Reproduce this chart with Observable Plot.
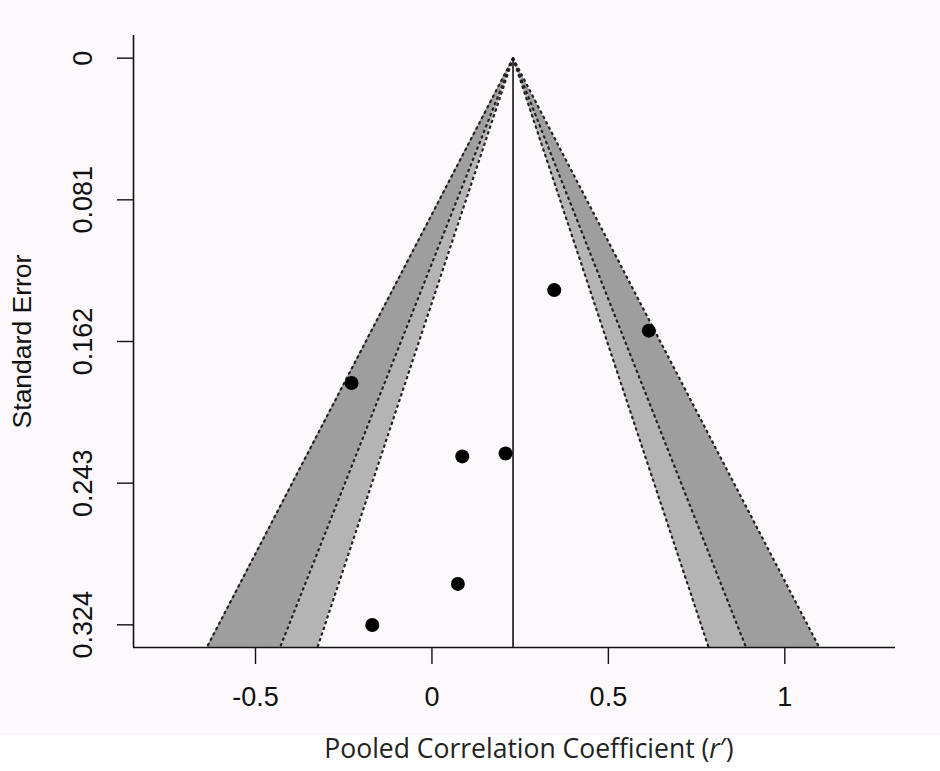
<!DOCTYPE html>
<html>
<head>
<meta charset="utf-8">
<script src="https://cdn.jsdelivr.net/npm/d3@7"></script>
<script src="https://cdn.jsdelivr.net/npm/@observablehq/plot@0.6"></script>
<style>
  html, body { margin: 0; padding: 0; background: #ffffff; }
  #chart svg { display: block; }
  #xlabel {
    width: 940px; height: 36px; background: #ffffff;
    font-family: "Open Sans", sans-serif; font-size: 26.5px; color: #222;
    position: relative;
  }
  #xlabel span { position: absolute; left: 529px; top: -2px; transform: translateX(-50%); white-space: nowrap; line-height: 1.2; }
</style>
</head>
<body>
<div id="chart"></div>
<div id="xlabel"><span>Pooled Correlation Coefficient (<i>r</i>′)</span></div>
<script>
// Study effect sizes (pooled correlation coefficient) and standard errors
const effects = [0.3466, 0.6146, -0.2278, 0.2086, 0.0859, 0.0734, -0.1692];
const stdErrors = [0.1326, 0.1558, 0.1857, 0.2260, 0.2277, 0.3006, 0.3241];

// Pooled estimate and contour levels (z for 90%, 95%, 99%)
const estimate = 0.2298;
const zLevels = [1.645, 1.96, 2.576];

// Axis settings
const xTicks = [-0.5, 0, 0.5, 1];
const yTicks = [0, 0.081, 0.162, 0.243, 0.324];
const yTickLabels = ["0", "0.081", "0.162", "0.243", "0.324"];
const xDomain = [-0.8458, 1.3137];
const yDomain = [-0.01296, 0.33696];

const points = effects.map((e, i) => ({effect: e, se: stdErrors[i]}));
const seEnds = [0, yDomain[1]];

// contour bands
function band(zA, zB, side) {
  return seEnds.map(se => ({se, x1: estimate + side * zA * se, x2: estimate + side * zB * se}));
}
const bands = [
  {data: band(zLevels[2], zLevels[1], -1), fill: "#9e9e9e"},
  {data: band(zLevels[1], zLevels[0], -1), fill: "#b4b4b4"},
  {data: band(zLevels[2], zLevels[1], 1), fill: "#9e9e9e"},
  {data: band(zLevels[1], zLevels[0], 1), fill: "#b4b4b4"}
];
const boundaryLines = [];
zLevels.forEach(z => [-1, 1].forEach(side => {
  boundaryLines.push(seEnds.map(se => ({se, x: estimate + side * z * se})));
}));

const font = "'Liberation Sans', Arial, sans-serif";

const chart = Plot.plot({
  width: 940,
  height: 735,
  marginLeft: 133,
  marginRight: 45,
  marginTop: 35,
  marginBottom: 88,
  style: {background: "#fdf8fc", fontFamily: font, color: "#111"},
  x: {domain: xDomain},
  y: {domain: yDomain, reverse: true},
  marks: [
    ...bands.map(b => Plot.areaX(b.data, {y: "se", x1: "x1", x2: "x2", fill: b.fill})),
    ...boundaryLines.map(l => Plot.line(l, {x: "x", y: "se", stroke: "#222", strokeWidth: 2.2, strokeDasharray: "1.5,4.5", strokeLinecap: "round"})),
    Plot.ruleX([estimate], {y1: 0, y2: yDomain[1], stroke: "#111", strokeWidth: 1.6}),
    Plot.dot(points, {x: "effect", y: "se", r: 7, fill: "#000", stroke: "none"}),
    Plot.ruleX([xDomain[0]], {stroke: "#111", strokeWidth: 1.6}),
    Plot.ruleY([yDomain[1]], {stroke: "#111", strokeWidth: 1.6}),
    Plot.axisX({ticks: xTicks, tickSize: 17, tickPadding: 22, tickFormat: d => String(d), fontSize: 27, label: null, stroke: "#111", strokeWidth: 1.4}),
    Plot.axisY({ticks: yTicks, tickSize: 16, tickFormat: () => "", label: null, stroke: "#111", strokeWidth: 1.4}),
    Plot.text(yTicks, {y: d => d, frameAnchor: "left", dx: -50, rotate: -90, textAnchor: "middle", lineAnchor: "middle", text: (d, i) => yTickLabels[i], fontSize: 27, fill: "#111"}),
    Plot.text(["Standard Error"], {frameAnchor: "left", dx: -111, rotate: -90, textAnchor: "middle", lineAnchor: "middle", text: d => d, fontSize: 26.5, fill: "#111"})
  ]
});
document.getElementById("chart").appendChild(chart);
</script>
</body>
</html>
